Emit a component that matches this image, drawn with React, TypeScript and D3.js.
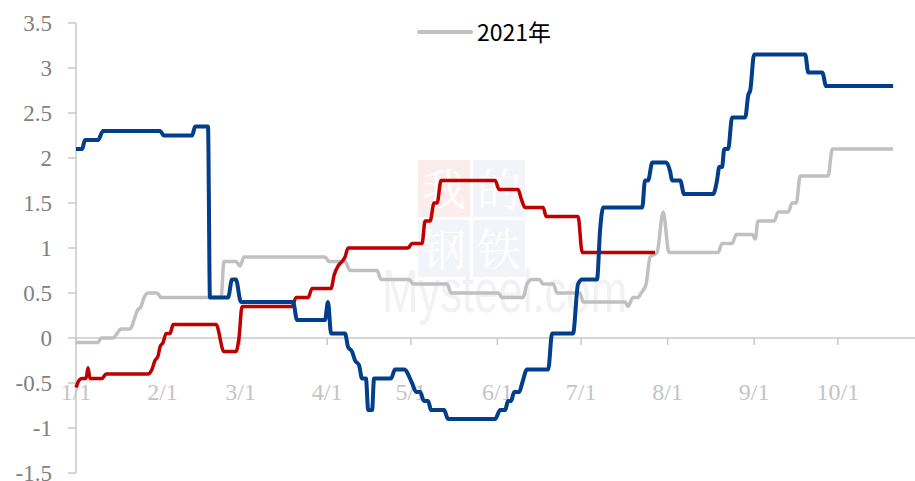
import * as d3 from "d3";

// day offsets from 1/1 and values
const monthDays = [0, 31, 59, 90, 120, 151, 181, 212, 243, 273];
const monthLabels = ["1/1", "2/1", "3/1", "4/1", "5/1", "6/1", "7/1", "8/1", "9/1", "10/1"];
const yTicks = [-1.5, -1, -0.5, 0, 0.5, 1, 1.5, 2, 2.5, 3, 3.5];
const yTickLabels = ["-1.5", "-1", "-0.5", "0", "0.5", "1", "1.5", "2", "2.5", "3", "3.5"];

const blueSeries: [number, number][] = [
  [0, 2.1], [2.2, 2.1], [3.2, 2.2], [7.9, 2.2], [9.7, 2.3], [30.1, 2.3], [31.5, 2.25],
  [41.6, 2.25], [42.7, 2.35], [47.3, 2.35], [48, 0.45], [54.5, 0.45], [55.9, 0.65],
  [57.3, 0.65], [59.1, 0.4], [77.8, 0.4], [79.2, 0.2], [89.2, 0.2], [90.3, 0.4],
  [91.4, 0.05], [96.4, 0.05], [97.5, -0.1], [98.9, -0.15], [100, -0.25], [101.4, -0.3],
  [102.5, -0.45], [103.9, -0.45], [104.7, -0.8], [106.1, -0.8], [106.8, -0.45],
  [112.9, -0.45], [114.3, -0.35], [117.6, -0.35], [120.4, -0.5], [121.9, -0.6],
  [123.3, -0.6], [124.7, -0.7], [126.2, -0.7], [127.2, -0.8], [131.9, -0.8],
  [133.3, -0.9], [150.2, -0.9], [152, -0.8], [153.8, -0.8], [154.8, -0.7], [155.9, -0.7],
  [157, -0.6], [158.8, -0.6], [159.9, -0.5], [161.6, -0.35], [169.2, -0.35],
  [170.6, 0.05], [178.1, 0.05], [179.9, 0.6], [181.4, 0.65], [186.7, 0.65],
  [187.8, 1.2], [188.9, 1.45], [202.9, 1.45], [203.9, 1.75], [205, 1.75], [206.5, 1.95],
  [211.5, 1.95], [212.9, 1.85], [213.6, 1.75], [216.5, 1.75], [217.9, 1.6], [228.3, 1.6],
  [229.7, 1.75], [230.5, 1.9], [231.5, 1.9], [232.3, 2.1], [233.7, 2.1], [235.1, 2.45],
  [239.8, 2.45], [240.9, 2.7], [241.6, 2.75], [243, 3.15], [261.3, 3.15], [262.4, 2.95],
  [267.4, 2.95], [268.8, 2.8], [292.8, 2.8],
];

const redSeries: [number, number][] = [
  [0, -0.55], [1.1, -0.47], [2.2, -0.45], [3.6, -0.45], [4.3, -0.33], [5, -0.45],
  [9.3, -0.45], [10.8, -0.4], [25.8, -0.4], [27.2, -0.35], [28.3, -0.25], [29.4, -0.2],
  [30.1, -0.1], [31.2, -0.05], [32.3, 0.05], [33.7, 0.05], [34.8, 0.15], [50.2, 0.15],
  [53, -0.15], [57.3, -0.15], [58.4, 0], [59.5, 0.35], [77.4, 0.35], [78.9, 0.45],
  [83.2, 0.45], [84.6, 0.55], [91.4, 0.55], [92.5, 0.7], [93.9, 0.8], [95.3, 0.85],
  [96.4, 0.9], [97.5, 1], [119, 1], [120.4, 1.05], [124, 1.05], [125.1, 1.3],
  [126.9, 1.3], [128.3, 1.5], [129.4, 1.5], [130.8, 1.75], [150.2, 1.75], [151.6, 1.65],
  [158.4, 1.65], [159.5, 1.55], [160.9, 1.45], [167.4, 1.45], [168.5, 1.35],
  [179.9, 1.35], [181.4, 0.95], [207.5, 0.95],
];

const series2021: [number, number][] = [
  [0, -0.05], [7.9, -0.05], [9, 0], [13.3, 0], [14.7, 0.05], [16.1, 0.1], [19.4, 0.1],
  [20.8, 0.2], [21.9, 0.3], [23.3, 0.35], [24.4, 0.45], [25.8, 0.5], [29, 0.5],
  [30.5, 0.45], [52, 0.45], [53, 0.85], [57.3, 0.85], [58.8, 0.8], [60.2, 0.9],
  [89.2, 0.9], [90.7, 0.85], [96.4, 0.85], [98.2, 0.75], [107.9, 0.75], [109.3, 0.65],
  [119.4, 0.65], [120.8, 0.6], [133, 0.6], [134.4, 0.5], [151.3, 0.5], [152.7, 0.45],
  [160.2, 0.45], [161.6, 0.6], [163.4, 0.65], [166, 0.65], [167.4, 0.6], [171, 0.6],
  [172.4, 0.5], [180.6, 0.5], [181.7, 0.4], [196.8, 0.4], [197.8, 0.35], [199.6, 0.45],
  [201.4, 0.45], [202.5, 0.5], [204.3, 0.6], [205.7, 0.9], [208.2, 0.95], [210.4, 1.4],
  [212.5, 0.95], [230.1, 0.95], [231.5, 1.05], [235.1, 1.05], [236.6, 1.15],
  [242.3, 1.15], [243.4, 1.1], [244.4, 1.3], [250.2, 1.3], [251.6, 1.4], [255.2, 1.4],
  [256.6, 1.5], [258.1, 1.5], [259.5, 1.8], [269.5, 1.8], [271, 2.1], [292.8, 2.1],
];

const serif = "'Times New Roman', 'Liberation Serif', serif";

export default function App() {
  const width = 915;
  const height = 481;
  const x = d3.scaleLinear().domain([0, 301]).range([76, 916]);
  const y = d3.scaleLinear().domain([-1.5, 3.5]).range([473, 23]);
  const line = d3
    .line<[number, number]>()
    .x((d) => x(d[0]))
    .y((d) => y(d[1]))
    .curve(d3.curveMonotoneX);

  const axisColor = "#c8c8c8";
  const y0 = y(0);

  return (
    <div style={{ position: "absolute", left: 0, top: 0 }}>
      <svg width={width} height={height} style={{ display: "block", background: "#fff" }}>
        {/* faint watermark */}
        <g opacity={0.9}>
          <rect x={418} y={160} width={52} height={57} fill="#fcecec" />
          <rect x={473} y={160} width={52} height={57} fill="#f1f3f9" />
          <rect x={418} y={220} width={52} height={57} fill="#f1f3f9" />
          <rect x={473} y={220} width={52} height={57} fill="#f1f3f9" />
          {["我", "的", "钢", "铁"].map((c, i) => (
            <text
              key={c}
              x={444 + (i % 2) * 55}
              y={206 + Math.floor(i / 2) * 60}
              textAnchor="middle"
              fontSize={44}
              fill="#ffffff"
              fontFamily="'Noto Serif CJK SC', 'Noto Sans CJK SC', serif"
            >
              {c}
            </text>
          ))}
          <text
            x={382}
            y={312}
            fontSize={62}
            fill="#f1f1f1"
            fontFamily="'Liberation Sans', Arial, sans-serif"
            textLength={245}
            lengthAdjust="spacingAndGlyphs"
          >
            Mysteel.com
          </text>
        </g>

        {/* y axis */}
        <line x1={76} x2={76} y1={y(3.5)} y2={y(-1.5)} stroke={axisColor} strokeWidth={1.5} />
        {yTicks.map((t, i) => (
          <g key={t}>
            <line x1={68} x2={76} y1={y(t)} y2={y(t)} stroke={axisColor} strokeWidth={1.5} />
            <text
              x={52}
              y={y(t)}
              dy="0.35em"
              textAnchor="end"
              fontSize={23}
              fill="#808080"
              fontFamily={serif}
            >
              {yTickLabels[i]}
            </text>
          </g>
        ))}

        {/* x axis */}
        <line x1={76} x2={915} y1={y0} y2={y0} stroke={axisColor} strokeWidth={1.5} />
        {monthDays.map((d, i) => (
          <g key={d}>
            <line x1={x(d)} x2={x(d)} y1={y0} y2={y0 + 7} stroke={axisColor} strokeWidth={1.5} />
            <text
              x={x(d)}
              y={400}
              textAnchor="middle"
              fontSize={24}
              fill="#c4c4c4"
              fontFamily={serif}
            >
              {monthLabels[i]}
            </text>
          </g>
        ))}

        {/* series */}
        <path d={line(series2021) ?? ""} fill="none" stroke="#c0c0c0" strokeWidth={3.5} strokeLinejoin="round" />
        <path d={line(redSeries) ?? ""} fill="none" stroke="#c00000" strokeWidth={3.5} strokeLinejoin="round" />
        <path d={line(blueSeries) ?? ""} fill="none" stroke="#023e8a" strokeWidth={4} strokeLinejoin="round" />

        {/* legend */}
        <line x1={419} x2={471} y1={32} y2={32} stroke="#c0c0c0" strokeWidth={4} strokeLinecap="round" />
        <text
          x={477}
          y={41}
          fontSize={23}
          fill="#000"
          fontFamily="'Noto Sans CJK SC', 'Noto Sans', sans-serif"
        >
          2021年
        </text>
      </svg>
    </div>
  );
}
